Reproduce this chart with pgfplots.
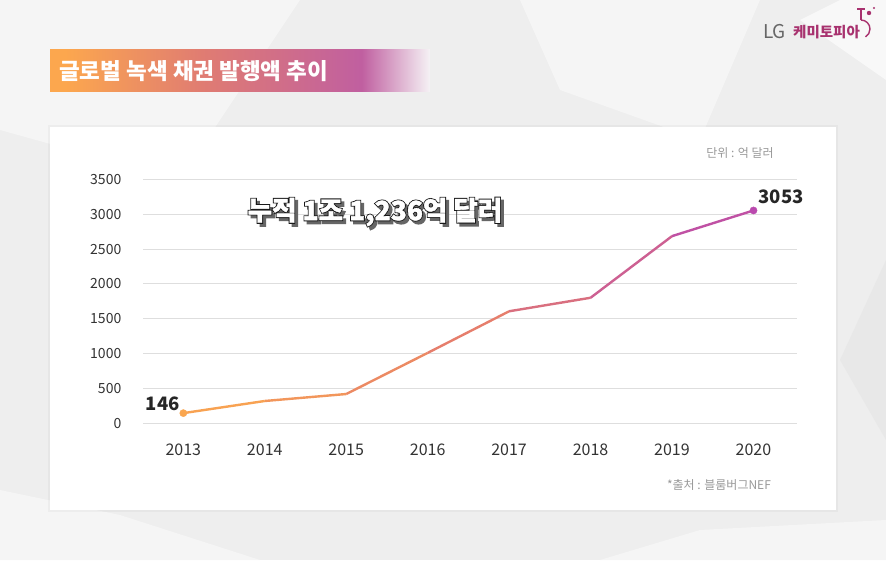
\documentclass[border=0pt]{standalone}
\usepackage{fontspec}
\setmainfont{Noto Sans CJK KR}
\newfontfamily\outl{Noto Sans CJK KR}[BoldFeatures={FakeBold=8}]
\newfontfamily\wfill{Noto Sans CJK KR}[BoldFeatures={FakeBold=1.5}]
\usepackage{pgfplots}
\pgfplotsset{compat=1.18}
\usetikzlibrary{calc}
\definecolor{bg}{HTML}{EEEEEE}
\definecolor{bglight}{HTML}{F5F5F5}
\definecolor{bgdark}{HTML}{E8E8E8}
\definecolor{cA}{HTML}{FCA74E}
\definecolor{cB}{HTML}{E07C72}
\definecolor{cC}{HTML}{C05FA0}
\definecolor{cEnd}{HTML}{F5F2F5}
\definecolor{lineS}{HTML}{FAA64F}
\definecolor{lineE}{HTML}{BA49AE}
\definecolor{tickc}{HTML}{333333}
\definecolor{note}{HTML}{999999}
\definecolor{gridc}{HTML}{DEDEDE}
\definecolor{lgmag}{HTML}{A8326F}
\pgfdeclarehorizontalshading{banner}{100bp}{color(0bp)=(cA); color(25bp)=(cA); color(27bp)=(cA); color(45bp)=(cB); color(66bp)=(cC); color(75bp)=(cEnd); color(100bp)=(cEnd)}
\begin{document}
\begin{tikzpicture}[x=1pt,y=1pt]
\useasboundingbox (0,0) rectangle (886,560);
% background
\fill[bg] (0,0) rectangle (886,560);
\fill[bglight] (0,560) -- (300,560) -- (180,380) -- (0,430) -- cycle;
\fill[bglight] (520,560) -- (760,560) -- (700,420) -- (560,470) -- cycle;
\fill[bgdark] (886,300) -- (886,120) -- (840,200) -- cycle;
\fill[bglight] (0,0) -- (260,0) -- (120,45) -- (0,70) -- cycle;
\fill[bglight] (600,0) -- (886,0) -- (886,40) -- (700,30) -- cycle;
\fill[white, opacity=0.6] (840,560) -- (886,560) -- (886,480) -- (800,540) -- cycle;
% panel
\fill[black, opacity=0.03] (48,48) rectangle (838,435);
\fill[white] (50,50) rectangle (836,433);
% banner
\shade[shading=banner] (50,468) rectangle (430,510);
\node[anchor=west, text=white, font=\fontsize{22.5}{22.5}\selectfont\bfseries, inner sep=0pt] at (59,489) {글로벌 녹색 채권 발행액 추이};
% logo
\node[anchor=west, text=black!60, font=\fontsize{19}{19}\selectfont, inner sep=0pt] at (763,528) {LG};
\node[anchor=west, text=lgmag, font=\fontsize{14.5}{14.5}\selectfont\bfseries, inner sep=0pt] at (793,528) {케미토피아};
\draw[lgmag, line width=1.4pt] (861,540) -- (861,551);
\draw[lgmag, line width=1.4pt] (857,551) -- (865,551);
\draw[lgmag, line width=1.4pt] (861,540) arc (90:-60:9pt);
\fill[lgmag] (869,547) circle (2.2pt);
\fill[lgmag] (874,552) circle (1.2pt);
% notes
\node[text=note, font=\fontsize{12}{12}\selectfont, inner sep=0pt] at (740,407) {단위 : 억 달러};
\node[text=note, font=\fontsize{12}{12}\selectfont, inner sep=0pt] at (719,75) {*출처 : 블룸버그NEF};
% axis
\begin{axis}[
  at={(143pt,136.7pt)}, anchor=south west, scale only axis,
  width=654pt, height=244pt,
  xmin=2012.505, xmax=2020.534, ymin=0, ymax=3500,
  axis line style={draw=none}, tick style={draw=none},
  ymajorgrids=true, xmajorgrids=false,
  major grid style={draw=gridc, line width=0.9pt},
  ytick={0,500,...,3500}, xtick={2013,...,2020},
  /pgf/number format/1000 sep={},
  /pgf/number format/assume math mode=true,
  yticklabel style={inner sep=0pt, xshift=-21.5pt, text=tickc, font=\fontsize{14}{14}\selectfont},
  xticklabel style={inner sep=0pt, yshift=-20pt, text=tickc, font=\fontsize{16}{16}\selectfont},
  clip=false,
  colormap={og}{rgb255(0cm)=(251,168,78); rgb255(1cm)=(230,126,108); rgb255(2cm)=(186,73,174)},
  point meta min=2013, point meta max=2020,
]
\addplot[mesh, point meta=x, line width=2.4pt, line join=round] coordinates {
(2013,146) (2014,320) (2015,420) (2016,1010) (2017,1607) (2018,1801) (2019,2685) (2020,3053)};
\addplot[only marks, mark=*, mark size=3.6pt, color=lineS] coordinates {(2013,146)};
\addplot[only marks, mark=*, mark size=3.6pt, color=lineE] coordinates {(2020,3053)};
\node[font=\fontsize{18.5}{18.5}\selectfont\bfseries, text=black!85, inner sep=0pt, xshift=-20.5pt, yshift=9.8pt] at (axis cs:2013,146) {146};
\node[font=\fontsize{18.5}{18.5}\selectfont\bfseries, text=black!85, inner sep=0pt, xshift=27.5pt, yshift=13.5pt] at (axis cs:2020,3053) {3053};
\end{axis}
% big text: shadow, outline, fill
\node[text=black!60, inner sep=0pt, font=\outl\fontsize{26.5}{26.5}\selectfont\bfseries] at (378,345) {누적 1조 1,236억 달러};
\node[text=black!90, inner sep=0pt, font=\outl\fontsize{26.5}{26.5}\selectfont\bfseries] at (375,348) {누적 1조 1,236억 달러};
\node[text=white, inner sep=0pt, font=\wfill\fontsize{26.5}{26.5}\selectfont\bfseries] at (375,348) {누적 1조 1,236억 달러};
\end{tikzpicture}
\end{document}
